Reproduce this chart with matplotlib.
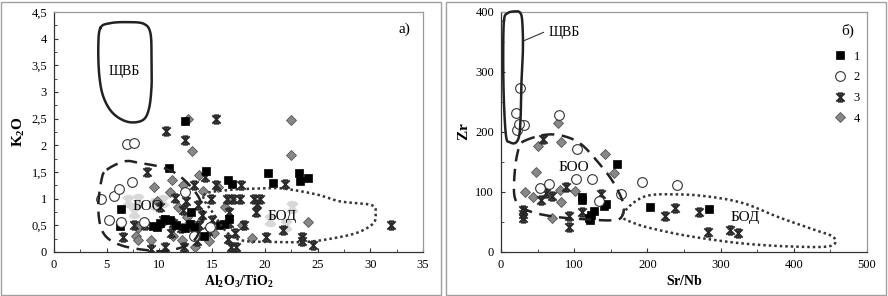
import numpy as np
import matplotlib.pyplot as plt
from matplotlib.path import Path
from matplotlib.patches import Rectangle
from matplotlib.ticker import FuncFormatter, MultipleLocator

plt.rcParams['font.family'] = ['Liberation Serif', 'DejaVu Serif']
plt.rcParams['mathtext.fontset'] = 'custom'
plt.rcParams['mathtext.rm'] = 'Liberation Serif'
plt.rcParams['mathtext.bf'] = 'Liberation Serif:bold'

# ---------- panel a) K2O vs Al2O3/TiO2 ----------
a_sq_x = [12.4, 10.9, 14.4, 16.5, 16.9, 20.3, 20.8, 23.2, 23.3, 24.1, 6.35, 6.26, 9.4, 9.8, 10.1,
          11.0, 11.6, 12.4, 12.9, 13.3, 15.7, 16.1, 16.6, 10.5, 14.2, 13.0]
a_sq_y = [2.45, 1.57, 1.52, 1.35, 1.28, 1.49, 1.30, 1.49, 1.34, 1.38, 0.80, 0.49, 0.49, 0.47, 0.55,
          0.60, 0.50, 0.45, 0.52, 0.47, 0.50, 0.52, 0.62, 0.62, 0.30, 0.75]

a_ci_x = [4.46, 5.7, 6.2, 7.4, 5.25, 6.4, 8.5, 6.9, 7.6, 12.4, 13.3, 14.8]
a_ci_y = [1.00, 1.05, 1.18, 1.32, 0.60, 0.57, 0.56, 2.02, 2.05, 1.12, 0.30, 0.46]

a_st_x = [10.6, 12.4, 15.4, 32.0, 8.85, 21.9, 17.7, 15.4, 13.3, 14.3, 16.4, 17.0, 17.6, 19.0, 19.5,
          14.9, 11.5, 12.5, 12.2, 13.7, 19.2, 19.3, 16.6, 6.5, 7.6, 8.6, 10.3, 11.3, 12.0, 13.8,
          14.6, 16.6, 18.0, 17.2, 23.5, 23.5, 24.6, 21.75, 20.1, 17.3, 16.8, 13.6, 12.3, 10.5, 9.2,
          11.1, 14.0, 16.5, 15.0, 10.1]
a_st_y = [2.27, 2.10, 2.50, 0.50, 1.50, 1.27, 1.25, 1.25, 1.25, 1.40, 1.00, 1.00, 1.00, 1.00, 1.00,
          1.00, 1.02, 0.95, 0.78, 0.88, 0.75, 0.90, 0.75, 0.29, 0.50, 0.50, 0.60, 0.55, 0.45, 0.50,
          0.40, 0.55, 0.50, 0.35, 0.28, 0.20, 0.14, 0.41, 0.29, 0.10, 0.10, 0.20, 0.10, 0.10, 0.05,
          0.35, 0.70, 0.25, 0.60, 0.85]

a_di_x = [12.7, 13.1, 22.5, 22.5, 24.1, 9.5, 11.2, 12.2, 13.8, 11.0, 7.8, 8.0, 9.2, 11.3, 12.1,
          18.8, 16.8, 15.6, 10.2, 12.6, 14.1, 15.2, 17.8, 13.4, 9.8, 16.2, 8.0, 11.8, 14.7, 12.8]
a_di_y = [2.50, 1.90, 2.47, 1.82, 0.57, 1.22, 1.35, 1.25, 1.45, 1.12, 0.30, 0.22, 0.23, 0.30, 0.22,
          0.27, 1.00, 1.22, 0.55, 0.65, 1.15, 0.35, 0.50, 0.10, 0.95, 0.85, 0.45, 0.85, 0.20, 0.55]

# faint grey marks under the field labels
a_fa_x = [7.0, 8.0, 9.6, 10.3, 7.6, 22.6, 20.5, 22.0]
a_fa_y = [0.95, 0.98, 0.90, 0.95, 0.75, 0.85, 0.60, 0.50]

# field outlines (control points)
a_shchvb = [(4.4, 4.2), (5.3, 4.29), (6.9, 4.31), (8.5, 4.28), (9.15, 4.1), (9.25, 3.6), (9.25, 3.1),
            (9.0, 2.68), (8.4, 2.47), (7.0, 2.44), (5.6, 2.6), (4.7, 2.9), (4.3, 3.3), (4.2, 3.85)]
a_boo = [(5.0, 1.54), (6.7, 1.70), (8.1, 1.67), (10.0, 1.6), (11.6, 1.47), (13.0, 1.22), (13.9, 0.95),
         (14.1, 0.6), (13.2, 0.2), (11.0, 0.03), (9.0, 0.03), (6.3, 0.13), (4.7, 0.35), (4.2, 0.8), (4.5, 1.35)]
a_bod = [(14.2, 1.06), (16.4, 1.16), (19.5, 1.19), (21.7, 1.19), (24.9, 1.08), (27.1, 0.95), (30.1, 0.88),
         (30.5, 0.72), (30.3, 0.54), (29.0, 0.38), (27.1, 0.28), (24.0, 0.19), (20.5, 0.19), (18.0, 0.21),
         (16.5, 0.35), (15.2, 0.7)]

# ---------- panel b) Zr vs Sr/Nb ----------
b_sq_x = [159, 110, 110, 143, 141, 127, 123, 120, 122, 204, 284]
b_sq_y = [146, 91, 87, 80, 77, 68, 62, 57, 53, 75, 71]

b_ci_x = [26, 20, 22, 32, 24, 79, 104, 53, 66, 102, 124, 134, 164, 192, 240]
b_ci_y = [274, 232, 204, 211, 214, 229, 172, 106, 114, 121, 122, 85, 97, 117, 111]

b_st_x = [57, 54, 69, 89, 137, 110, 93, 93, 30, 30, 30, 224, 238, 271, 283, 313, 324, 62]
b_st_y = [189, 87, 94, 108, 96, 67, 60, 42, 70, 63, 56, 60, 73, 67, 34, 37, 31, 99]

b_di_x = [78, 51, 82, 142, 154, 48, 33, 44, 80, 101, 82, 69]
b_di_y = [215, 177, 184, 164, 131, 134, 100, 92, 104, 102, 84, 56]

b_shchvb = [(4, 385), (9, 398), (19, 401), (26, 399), (29, 385), (30, 340), (28, 285), (27, 230),
            (25, 195), (20, 182), (12, 183), (7, 192), (4, 250), (3, 320)]
b_boo = [(30, 184), (58, 195), (83, 194), (108, 181), (131, 152), (153, 117), (167, 81), (165, 59),
         (153, 53), (122, 54), (72, 59), (35, 70), (19, 90), (19, 137), (24, 172)]
b_bod = [(166, 62), (195, 92), (241, 96), (286, 92), (332, 81), (377, 59), (423, 39), (454, 25),
         (450, 10), (400, 9), (332, 14), (264, 25), (214, 37), (182, 48)]

legend_labels = ['1', '2', '3', '4']


def smooth_closed(pts, n=30):
    p = np.array(pts, dtype=float)
    m = len(p)
    out = []
    for i in range(m):
        p0, p1, p2, p3 = p[i - 1], p[i], p[(i + 1) % m], p[(i + 2) % m]
        t = np.linspace(0, 1, n, endpoint=False)[:, None]
        out.append(0.5 * ((2 * p1) + (-p0 + p2) * t + (2 * p0 - 5 * p1 + 4 * p2 - p3) * t ** 2
                          + (-p0 + 3 * p1 - 3 * p2 + p3) * t ** 3))
    out = np.vstack(out)
    return np.vstack([out, out[:1]])


# star marker like Excel's
star = Path([(-1, -1), (1, 1), (-1, 1), (1, -1), (0, -1), (0, 1), (-0.6, 1), (0.6, 1), (-0.6, -1), (0.6, -1)],
            [Path.MOVETO, Path.LINETO] * 5)

sty_sq = dict(marker='s', ls='none', ms=6, mfc='black', mec='black', mew=0.5)
sty_ci = dict(marker='o', ls='none', ms=7, mfc='white', mec='#333333', mew=0.8)
sty_st = dict(marker=star, ls='none', ms=6, fillstyle='none', mec='#2a2a2a', mew=1.4)
sty_di = dict(marker='D', ls='none', ms=5.5, mfc='#888888', mec='#555555', mew=0.6)

fig = plt.figure(figsize=(8.88, 2.96), dpi=100)
W, H = 888, 296
for x0, x1 in [(1, 441), (446, 886)]:
    fig.patches.append(Rectangle((x0 / W, 1 / H), (x1 - x0) / W, 293 / H, transform=fig.transFigure,
                                 fill=False, ec='#a0a0a0', lw=1))

ax1 = fig.add_axes([54 / W, 44 / H, 369 / W, 240 / H])
ax2 = fig.add_axes([501 / W, 44 / H, 366 / W, 240 / H])

comma = FuncFormatter(lambda v, p: ('%g' % v).replace('.', ','))

for ax in (ax1, ax2):
    for s in ('top', 'right'):
        ax.spines[s].set_color('#9a9a9a')
    for s in ('left', 'bottom'):
        ax.spines[s].set_color('#333333')
    for s in ax.spines.values():
        s.set_linewidth(0.9)
    ax.tick_params(which='both', direction='in', labelsize=9, color='#333333', pad=5)
    ax.tick_params(which='major', length=3)
    ax.tick_params(which='minor', length=2)

# panel a
ax1.plot(a_fa_x, a_fa_y, marker=star, ls='none', ms=7, fillstyle='none', mec='#d8d8d8', mew=2.5, zorder=1)
ax1.plot(a_di_x, a_di_y, zorder=3, **sty_di)
ax1.plot(a_st_x, a_st_y, zorder=3, **sty_st)
ax1.plot(a_sq_x, a_sq_y, zorder=4, **sty_sq)
ax1.plot(a_ci_x, a_ci_y, zorder=4, **sty_ci)
c = smooth_closed(a_shchvb)
ax1.plot(c[:, 0], c[:, 1], color='#222222', lw=1.8, zorder=5)
c = smooth_closed(a_boo)
ax1.plot(c[:, 0], c[:, 1], color='#222222', lw=1.8, ls=(0, (5, 3)), zorder=5)
c = smooth_closed(a_bod)
ax1.plot(c[:, 0], c[:, 1], color='#333333', lw=1.8, ls=(0, (1, 1.2)), zorder=5)
ax1.text(6.7, 3.38, 'ЩВБ', fontsize=10, ha='center', va='center', zorder=6)
ax1.text(8.9, 0.86, 'БОО', fontsize=11, ha='center', va='center', zorder=6)
ax1.text(21.6, 0.67, 'БОД', fontsize=11, ha='center', va='center', zorder=6)
ax1.text(33.2, 4.17, 'а)', fontsize=11, ha='center', va='center')
ax1.set_xlim(0, 35)
ax1.set_ylim(0, 4.5)
ax1.xaxis.set_major_locator(MultipleLocator(5))
ax1.xaxis.set_minor_locator(MultipleLocator(2.5))
ax1.yaxis.set_major_locator(MultipleLocator(0.5))
ax1.yaxis.set_minor_locator(MultipleLocator(0.25))
ax1.yaxis.set_major_formatter(comma)
ax1.set_xlabel(r'$\mathbf{Al_2O_3/TiO_2}$', fontsize=10, labelpad=2)
ax1.set_ylabel(r'$\mathbf{K_2O}$', fontsize=11, labelpad=3)

# panel b
h4, = ax2.plot(b_di_x, b_di_y, zorder=3, **sty_di)
h3, = ax2.plot(b_st_x, b_st_y, zorder=3, **sty_st)
h1, = ax2.plot(b_sq_x, b_sq_y, zorder=4, **sty_sq)
h2, = ax2.plot(b_ci_x, b_ci_y, zorder=4, **sty_ci)
c = smooth_closed(b_shchvb)
ax2.plot(c[:, 0], c[:, 1], color='#222222', lw=1.8, zorder=5, clip_on=False)
c = smooth_closed(b_boo)
ax2.plot(c[:, 0], c[:, 1], color='#222222', lw=1.8, ls=(0, (5, 3)), zorder=5)
c = smooth_closed(b_bod)
ax2.plot(c[:, 0], c[:, 1], color='#333333', lw=1.8, ls=(0, (1, 1.2)), zorder=5)
ax2.plot([31, 58], [352, 366], color='#333333', lw=0.8)
ax2.text(86, 366, 'ЩВБ', fontsize=10, ha='center', va='center')
ax2.text(99, 141, 'БОО', fontsize=11, ha='center', va='center', zorder=6)
ax2.text(334, 57, 'БОД', fontsize=11, ha='center', va='center', zorder=6)
ax2.text(473, 368, 'б)', fontsize=11, ha='center', va='center')
ax2.set_xlim(0, 500)
ax2.set_ylim(0, 400)
ax2.xaxis.set_major_locator(MultipleLocator(100))
ax2.xaxis.set_minor_locator(MultipleLocator(50))
ax2.yaxis.set_major_locator(MultipleLocator(100))
ax2.yaxis.set_minor_locator(MultipleLocator(50))
ax2.set_xlabel(r'$\mathbf{Sr/Nb}$', fontsize=10, labelpad=2)
ax2.set_ylabel(r'$\mathbf{Zr}$', fontsize=11, labelpad=3)
ax2.legend([h1, h2, h3, h4], legend_labels, loc='upper left', bbox_to_anchor=(0.895, 0.86),
           frameon=False, fontsize=9, handlelength=1.0, handletextpad=0.6, labelspacing=0.7,
           borderaxespad=0)

fig.savefig('out.png', dpi=100)
